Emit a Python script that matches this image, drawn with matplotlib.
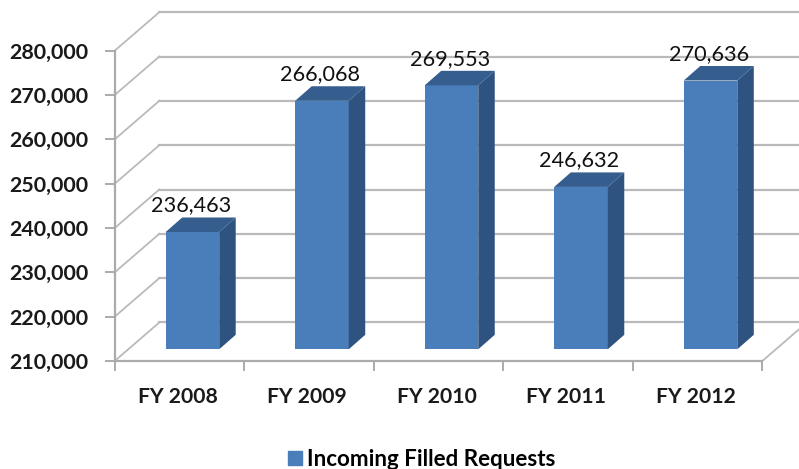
import matplotlib
matplotlib.use('Agg')
import matplotlib.pyplot as plt
from matplotlib.patches import Polygon, Patch

years = ['FY 2008', 'FY 2009', 'FY 2010', 'FY 2011', 'FY 2012']
filled_requests = [236463, 266068, 269553, 246632, 270636]
value_labels = ['236,463', '266,068', '269,553', '246,632', '270,636']
y_ticks = [210000, 220000, 230000, 240000, 250000, 260000, 270000, 280000]
series_name = 'Incoming Filled Requests'

W, H = 799, 469
plt.rcParams['font.family'] = ['Lato', 'DejaVu Sans']

fig = plt.figure(figsize=(W / 100, H / 100), dpi=100)

# front plane of the fake 3D box, in pixels
left, right, top, bottom = 114.7, 762.3, 50.7, 361
ax = fig.add_axes([left / W, (H - bottom) / H, (right - left) / W, (bottom - top) / H])
ax.set_xlim(-0.5, 4.5)
ax.set_ylim(210000, 280000)

# pixel offsets -> data units
ux = 5 / (right - left)
uy = 70000 / (bottom - top)

grid_c = '#bababa'
axis_c = '#ababab'
wall_dx, wall_dy = 44.6 * ux, 38.5 * uy
x0, x1 = -0.5, 4.5

# walls
for t in y_ticks:
    ax.plot([x0, x0 + wall_dx], [t, t + wall_dy], color=grid_c, lw=1.3, clip_on=False, zorder=1)
    ax.plot([x0 + wall_dx, x1 + wall_dx], [t + wall_dy, t + wall_dy], color=grid_c, lw=1.6, clip_on=False, zorder=1)
ax.plot([x1, x1 + wall_dx], [210000, 210000 + wall_dy], color=grid_c, lw=1.3, clip_on=False, zorder=1)

# bars
bar_w = 53.5 * ux
bar_dx, bar_dy = 13 * ux, 11.7 * uy
side_dx, side_dy = 16.5 * ux, 14.5 * uy
for i, v in enumerate(filled_requests):
    xl = i + bar_dx - bar_w / 2
    xr = xl + bar_w
    b = 210000 + bar_dy
    t = v + bar_dy
    ax.bar(i + bar_dx, v - 210000, width=bar_w, bottom=b, color='#4a7ebb', linewidth=0, clip_on=False, zorder=3)
    ax.add_patch(Polygon([(xr, b), (xr + side_dx, b + side_dy), (xr + side_dx, t + side_dy), (xr, t)],
                         facecolor='#2f5380', edgecolor='none', clip_on=False, zorder=3))
    ax.add_patch(Polygon([(xl, t), (xl + side_dx, t + side_dy), (xr + side_dx, t + side_dy), (xr, t)],
                         facecolor='#355d8e', edgecolor='none', clip_on=False, zorder=3))
    ax.text(i + bar_dx - 1.5 * ux, t + side_dy + 6 * uy, value_labels[i], ha='center', va='baseline',
            fontsize=15.6, color='#111111', zorder=4, clip_on=False)

for s in ['top', 'right']:
    ax.spines[s].set_visible(False)
for s in ['left', 'bottom']:
    ax.spines[s].set_color(axis_c)
    ax.spines[s].set_linewidth(1.6)
ax.patch.set_visible(False)

ax.set_yticks(y_ticks)
ax.set_yticklabels([f'{t:,}' for t in y_ticks], fontsize=15.4, fontweight='bold', color='#1a1a1a')
ax.set_xticks([-0.5, 0.5, 1.5, 2.5, 3.5, 4.5])
ax.set_xticklabels([])
ax.set_xticks([i - 2 * ux for i in range(5)], labels=years, minor=True, fontsize=15.2, fontweight='bold', color='#1a1a1a')
ax.tick_params(axis='y', length=7, width=1.4, color=axis_c, pad=12)
ax.tick_params(axis='x', which='major', length=7, width=1.4, color=axis_c)
ax.tick_params(axis='x', which='minor', length=0, pad=19)

fig.legend(handles=[Patch(color='#4a7ebb', label=series_name)], loc='lower center',
           bbox_to_anchor=(422 / W, -0.045), frameon=False, handlelength=0.6, handleheight=0.6,
           handletextpad=0.24, prop={'size': 16.1, 'weight': 'bold'})

fig.savefig('out.png', dpi=100)
